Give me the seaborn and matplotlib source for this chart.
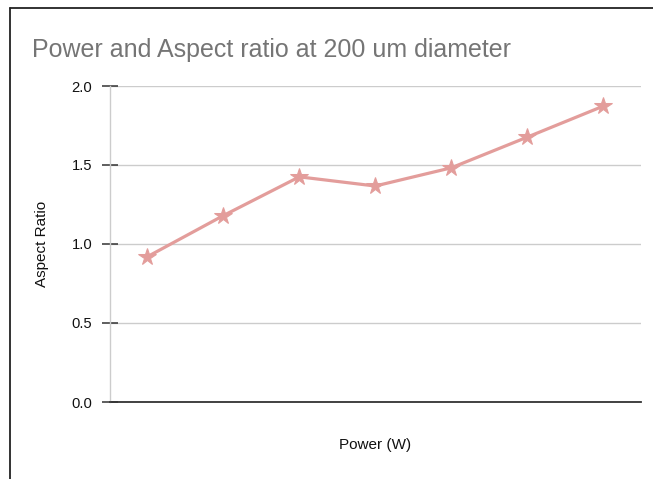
import matplotlib
matplotlib.use("Agg")
import matplotlib.pyplot as plt
import seaborn as sns
import pandas as pd
from matplotlib.lines import Line2D

# Data
power_points = [1, 2, 3, 4, 5, 6, 7]
aspect_ratio = [0.92, 1.18, 1.425, 1.367, 1.482, 1.676, 1.872]
y_ticks = [0.0, 0.5, 1.0, 1.5, 2.0]
y_tick_labels = ["0.0", "0.5", "1.0", "1.5", "2.0"]

df = pd.DataFrame({"Power (W)": power_points, "Aspect Ratio": aspect_ratio})

sns.set_theme(style="white")
plt.rcParams['font.family'] = ['Liberation Sans', 'DejaVu Sans']

W, H = 653, 479
fig = plt.figure(figsize=(W / 100, H / 100), dpi=100)
ax = fig.add_axes([109.5 / W, 1 - 402 / H, (641 - 109.5) / W, (402 - 86) / H])

line_color = "#e39d9b"
sns.lineplot(data=df, x="Power (W)", y="Aspect Ratio", ax=ax, color=line_color,
             linewidth=2.3, marker="*", markersize=13, markeredgecolor=line_color,
             markerfacecolor=line_color)

ax.set_xlim(0.5, 7.5)
ax.set_ylim(0, 2.0)
ax.set_yticks(y_ticks)
ax.set_yticklabels(y_tick_labels)
ax.set_xticks([])
ax.grid(axis="y", color="#cccccc", linewidth=1)
ax.set_axisbelow(True)

for s in ["top", "right"]:
    ax.spines[s].set_visible(False)
ax.spines["left"].set_color("#cccccc")
ax.spines["left"].set_linewidth(1)
ax.spines["bottom"].set_color("#333333")
ax.spines["bottom"].set_linewidth(1.3)

ax.tick_params(axis="y", direction="inout", length=11, width=1.1, color="#333333",
               labelsize=10.6, labelcolor="#111111", pad=7, left=True)
ax.set_xlabel("Power (W)", fontsize=11, color="#111111", labelpad=26)
ax.set_ylabel("Aspect Ratio", fontsize=11, color="#111111", labelpad=16)

fig.text(32 / W, 1 - 57 / H, "Power and Aspect ratio at 200 um diameter",
         fontsize=18, color="#757575", ha="left", va="baseline")

# Frame lines around the chart area
fig.add_artist(Line2D([10 / W, 1.0], [1 - 8 / H, 1 - 8 / H], color="#222222", linewidth=1.3,
                      transform=fig.transFigure))
fig.add_artist(Line2D([10 / W, 10 / W], [1 - 8 / H, 0.0], color="#222222", linewidth=1.3,
                      transform=fig.transFigure))

fig.savefig("out.png", dpi=100)
